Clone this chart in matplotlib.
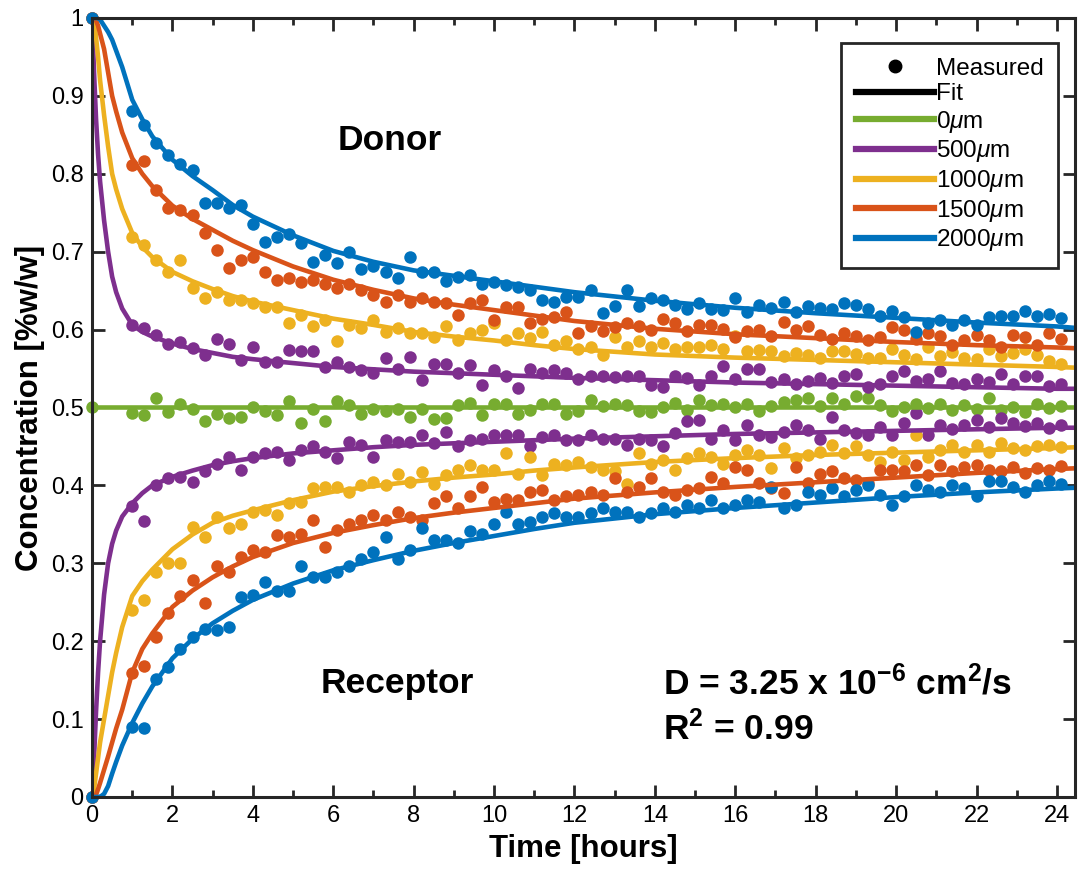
import numpy as np
import matplotlib
matplotlib.use("Agg")
import matplotlib.pyplot as plt
from matplotlib.lines import Line2D

plt.rcParams['font.family'] = ['Liberation Sans', 'DejaVu Sans']
plt.rcParams['mathtext.fontset'] = 'custom'
plt.rcParams['mathtext.rm'] = 'Liberation Sans'
plt.rcParams['mathtext.it'] = 'Liberation Sans:italic'
plt.rcParams['mathtext.bf'] = 'Liberation Sans:bold'

# measurement times [h]: t=0 then every 0.3 h from 1.0 to 24.1
t_meas = np.concatenate([[0.0], np.round(np.arange(1.0, 24.15, 0.3), 1)])

# measured donor concentrations
d2000 = [1.0,
         0.880, 0.862, 0.840, 0.824, 0.812, 0.805, 0.762, 0.762, 0.756, 0.760,
         0.736, 0.713, 0.719, 0.723, 0.711, 0.687, 0.696, 0.685, 0.700, 0.678,
         0.681, 0.674, 0.666, 0.693, 0.674, 0.674, 0.662, 0.668, 0.670, 0.659,
         0.661, 0.657, 0.655, 0.651, 0.638, 0.636, 0.642, 0.642, 0.651, 0.621,
         0.630, 0.651, 0.630, 0.640, 0.638, 0.632, 0.626, 0.634, 0.627, 0.625,
         0.640, 0.622, 0.631, 0.628, 0.635, 0.622, 0.630, 0.628, 0.626, 0.634,
         0.632, 0.626, 0.618, 0.624, 0.616, 0.597, 0.608, 0.612, 0.606, 0.612,
         0.606, 0.616, 0.618, 0.618, 0.624, 0.618, 0.620, 0.615]
d1500 = [1.0,
         0.811, 0.816, 0.779, 0.756, 0.753, 0.747, 0.724, 0.702, 0.679, 0.689,
         0.693, 0.674, 0.664, 0.666, 0.661, 0.664, 0.659, 0.653, 0.659, 0.651,
         0.645, 0.636, 0.644, 0.636, 0.640, 0.636, 0.634, 0.619, 0.634, 0.638,
         0.612, 0.629, 0.629, 0.608, 0.614, 0.616, 0.623, 0.596, 0.605, 0.598,
         0.603, 0.608, 0.605, 0.600, 0.613, 0.608, 0.598, 0.606, 0.606, 0.601,
         0.590, 0.598, 0.600, 0.592, 0.610, 0.600, 0.605, 0.593, 0.588, 0.596,
         0.592, 0.586, 0.590, 0.603, 0.600, 0.588, 0.596, 0.592, 0.580, 0.586,
         0.593, 0.586, 0.578, 0.593, 0.590, 0.580, 0.596, 0.588]
d1000 = [1.0,
         0.719, 0.708, 0.689, 0.674, 0.689, 0.653, 0.640, 0.648, 0.638, 0.638,
         0.634, 0.629, 0.629, 0.608, 0.619, 0.604, 0.612, 0.585, 0.606, 0.602,
         0.612, 0.597, 0.602, 0.595, 0.595, 0.591, 0.604, 0.587, 0.595, 0.599,
         0.608, 0.587, 0.595, 0.589, 0.597, 0.580, 0.585, 0.575, 0.577, 0.567,
         0.590, 0.577, 0.585, 0.578, 0.583, 0.575, 0.577, 0.578, 0.580, 0.575,
         0.592, 0.572, 0.574, 0.573, 0.566, 0.570, 0.568, 0.564, 0.572, 0.573,
         0.569, 0.564, 0.564, 0.575, 0.568, 0.562, 0.578, 0.566, 0.571, 0.563,
         0.562, 0.575, 0.566, 0.570, 0.575, 0.568, 0.560, 0.556]
d500 = [1.0,
        0.606, 0.602, 0.593, 0.582, 0.584, 0.576, 0.567, 0.588, 0.582, 0.561,
        0.578, 0.559, 0.559, 0.574, 0.572, 0.572, 0.552, 0.559, 0.552, 0.548,
        0.544, 0.563, 0.550, 0.565, 0.535, 0.556, 0.556, 0.544, 0.555, 0.529,
        0.548, 0.540, 0.525, 0.550, 0.544, 0.548, 0.544, 0.537, 0.541, 0.540,
        0.539, 0.541, 0.540, 0.529, 0.526, 0.540, 0.538, 0.529, 0.540, 0.553,
        0.537, 0.550, 0.550, 0.533, 0.536, 0.530, 0.534, 0.538, 0.532, 0.541,
        0.543, 0.526, 0.530, 0.540, 0.547, 0.534, 0.537, 0.547, 0.532, 0.530,
        0.537, 0.533, 0.543, 0.530, 0.540, 0.540, 0.528, 0.530]
m0 = [0.5,
      0.493, 0.490, 0.512, 0.494, 0.505, 0.498, 0.483, 0.492, 0.487, 0.488,
      0.500, 0.496, 0.490, 0.508, 0.480, 0.498, 0.483, 0.508, 0.503, 0.492,
      0.498, 0.495, 0.498, 0.488, 0.498, 0.485, 0.486, 0.503, 0.506, 0.490,
      0.505, 0.505, 0.492, 0.497, 0.505, 0.505, 0.491, 0.496, 0.510, 0.502,
      0.505, 0.503, 0.496, 0.494, 0.501, 0.506, 0.497, 0.510, 0.503, 0.504,
      0.500, 0.504, 0.496, 0.502, 0.507, 0.510, 0.512, 0.502, 0.512, 0.505,
      0.515, 0.512, 0.503, 0.496, 0.500, 0.505, 0.499, 0.504, 0.497, 0.503,
      0.498, 0.512, 0.497, 0.501, 0.494, 0.505, 0.499, 0.502]

# measured receptor concentrations
r500 = [0.0,
        0.373, 0.354, 0.400, 0.409, 0.411, 0.404, 0.418, 0.428, 0.437, 0.420,
        0.437, 0.441, 0.443, 0.433, 0.445, 0.450, 0.443, 0.435, 0.456, 0.452,
        0.437, 0.458, 0.456, 0.456, 0.465, 0.454, 0.469, 0.450, 0.458, 0.460,
        0.465, 0.465, 0.465, 0.450, 0.462, 0.465, 0.458, 0.458, 0.465, 0.460,
        0.460, 0.452, 0.460, 0.458, 0.450, 0.467, 0.482, 0.484, 0.460, 0.471,
        0.458, 0.478, 0.465, 0.462, 0.469, 0.478, 0.471, 0.460, 0.488, 0.471,
        0.467, 0.465, 0.475, 0.465, 0.480, 0.493, 0.465, 0.478, 0.473, 0.478,
        0.484, 0.475, 0.486, 0.480, 0.476, 0.480, 0.474, 0.478]
r1000 = [0.0,
         0.240, 0.253, 0.289, 0.300, 0.300, 0.347, 0.334, 0.360, 0.345, 0.351,
         0.366, 0.368, 0.362, 0.377, 0.379, 0.396, 0.398, 0.398, 0.392, 0.400,
         0.404, 0.400, 0.415, 0.404, 0.417, 0.402, 0.413, 0.420, 0.426, 0.420,
         0.420, 0.441, 0.415, 0.437, 0.413, 0.428, 0.426, 0.430, 0.424, 0.420,
         0.418, 0.402, 0.441, 0.428, 0.432, 0.420, 0.435, 0.441, 0.437, 0.428,
         0.439, 0.445, 0.439, 0.422, 0.448, 0.435, 0.439, 0.443, 0.452, 0.441,
         0.450, 0.439, 0.430, 0.443, 0.433, 0.465, 0.437, 0.445, 0.452, 0.443,
         0.452, 0.443, 0.454, 0.448, 0.446, 0.450, 0.452, 0.449]
r1500 = [0.0,
         0.159, 0.168, 0.205, 0.236, 0.258, 0.279, 0.249, 0.296, 0.289, 0.308,
         0.317, 0.315, 0.336, 0.334, 0.338, 0.356, 0.321, 0.343, 0.351, 0.356,
         0.362, 0.356, 0.366, 0.360, 0.356, 0.377, 0.386, 0.371, 0.386, 0.398,
         0.379, 0.383, 0.381, 0.392, 0.394, 0.381, 0.386, 0.388, 0.392, 0.388,
         0.409, 0.392, 0.398, 0.409, 0.392, 0.388, 0.394, 0.396, 0.411, 0.403,
         0.424, 0.420, 0.403, 0.396, 0.390, 0.424, 0.403, 0.415, 0.418, 0.409,
         0.407, 0.403, 0.420, 0.420, 0.418, 0.426, 0.413, 0.426, 0.418, 0.424,
         0.426, 0.420, 0.418, 0.424, 0.416, 0.422, 0.420, 0.425]
r2000 = [0.0,
         0.090, 0.088, 0.152, 0.167, 0.190, 0.205, 0.216, 0.214, 0.218, 0.257,
         0.259, 0.276, 0.265, 0.265, 0.296, 0.283, 0.283, 0.289, 0.296, 0.306,
         0.315, 0.334, 0.306, 0.317, 0.345, 0.330, 0.330, 0.326, 0.341, 0.338,
         0.351, 0.366, 0.351, 0.353, 0.360, 0.364, 0.360, 0.360, 0.364, 0.371,
         0.366, 0.366, 0.360, 0.364, 0.371, 0.366, 0.375, 0.371, 0.381, 0.371,
         0.375, 0.381, 0.379, 0.398, 0.371, 0.375, 0.392, 0.388, 0.396, 0.386,
         0.394, 0.400, 0.388, 0.375, 0.386, 0.400, 0.394, 0.392, 0.400, 0.396,
         0.386, 0.405, 0.405, 0.398, 0.392, 0.400, 0.405, 0.402]

# fitted curves, read at these times [h]
t_fit = [0, 0.05, 0.1, 0.15, 0.2, 0.3, 0.4, 0.5, 0.6, 0.75, 1, 1.25, 1.5, 2,
         2.5, 3, 3.5, 4, 5, 6, 7, 8, 9, 10, 11, 12, 14, 16, 18, 20, 22, 24, 24.5]
fd2000 = [1.0, 1.0, 1.0, 1.0, 0.998, 0.99, 0.982, 0.972, 0.958, 0.937, 0.895,
          0.87, 0.848, 0.818, 0.797, 0.779, 0.76, 0.745, 0.721, 0.701, 0.687,
          0.676, 0.669, 0.662, 0.655, 0.648, 0.637, 0.628, 0.621, 0.615,
          0.609, 0.604, 0.602]
fd1500 = [1.0, 1.0, 0.997, 0.99, 0.98, 0.96, 0.93, 0.90, 0.88, 0.853, 0.82,
          0.80, 0.784, 0.759, 0.742, 0.728, 0.714, 0.702, 0.681, 0.664, 0.651,
          0.640, 0.632, 0.625, 0.618, 0.611, 0.601, 0.594, 0.589, 0.584,
          0.580, 0.577, 0.576]
fd1000 = [1.0, 0.995, 0.975, 0.95, 0.92, 0.875, 0.835, 0.80, 0.78, 0.755,
          0.724, 0.706, 0.693, 0.674, 0.662, 0.652, 0.643, 0.636, 0.625,
          0.614, 0.606, 0.597, 0.591, 0.586, 0.580, 0.575, 0.568, 0.564,
          0.561, 0.558, 0.555, 0.552, 0.551]
fd500 = [1.0, 0.93, 0.87, 0.825, 0.79, 0.74, 0.70, 0.668, 0.648, 0.627, 0.606,
         0.597, 0.591, 0.582, 0.575, 0.570, 0.565, 0.562, 0.557, 0.552, 0.549,
         0.546, 0.544, 0.542, 0.540, 0.538, 0.535, 0.532, 0.530, 0.528, 0.526,
         0.524, 0.524]
fr500 = [0.0, 0.05, 0.11, 0.16, 0.2, 0.26, 0.3, 0.325, 0.342, 0.36, 0.377,
         0.39, 0.40, 0.411, 0.419, 0.426, 0.431, 0.435, 0.441, 0.445, 0.449,
         0.452, 0.454, 0.456, 0.458, 0.460, 0.463, 0.466, 0.468, 0.470, 0.472,
         0.474, 0.474]
fr1000 = [0.0, 0.01, 0.03, 0.05, 0.07, 0.10, 0.13, 0.16, 0.185, 0.218, 0.258,
          0.277, 0.292, 0.318, 0.337, 0.352, 0.361, 0.368, 0.381, 0.392,
          0.399, 0.405, 0.41, 0.414, 0.419, 0.423, 0.43, 0.435, 0.439, 0.442,
          0.445, 0.448, 0.449]
fr1500 = [0.0, 0.0, 0.003, 0.01, 0.018, 0.035, 0.052, 0.07, 0.088, 0.112,
          0.16, 0.19, 0.21, 0.244, 0.265, 0.282, 0.296, 0.308, 0.326, 0.339,
          0.349, 0.358, 0.365, 0.371, 0.377, 0.383, 0.391, 0.398, 0.404,
          0.410, 0.416, 0.421, 0.422]
fr2000 = [0.0, 0.0, 0.0, 0.0, 0.0, 0.004, 0.014, 0.03, 0.045, 0.066, 0.095,
          0.12, 0.142, 0.178, 0.203, 0.223, 0.239, 0.253, 0.274, 0.291, 0.304,
          0.316, 0.326, 0.335, 0.344, 0.352, 0.363, 0.371, 0.378, 0.385,
          0.391, 0.396, 0.397]
t_fit0 = [0, 24.5]
f0 = [0.5, 0.5]

c_green = '#77AC30'
c_purple = '#7E2F8E'
c_yellow = '#EDB120'
c_red = '#D95319'
c_blue = '#0072BD'

fig = plt.figure(figsize=(10.79, 8.73), dpi=100)
ax = fig.add_axes([0.0853, 0.0871, 0.9110, 0.8923])

ms = 9
for vals, col in [(m0, c_green), (d500, c_purple), (r500, c_purple),
                  (d1000, c_yellow), (r1000, c_yellow), (d1500, c_red),
                  (r1500, c_red), (d2000, c_blue), (r2000, c_blue)]:
    ax.plot(t_meas, vals, 'o', ms=ms, mec='none', color=col, zorder=2,
            clip_on=False)

lw = 3.3
ax.plot(t_fit0, f0, color=c_green, lw=lw, zorder=3)
for vals, col in [(fd500, c_purple), (fr500, c_purple),
                  (fd1000, c_yellow), (fr1000, c_yellow),
                  (fd1500, c_red), (fr1500, c_red),
                  (fd2000, c_blue), (fr2000, c_blue)]:
    ax.plot(t_fit, vals, color=col, lw=lw, zorder=3, solid_capstyle='round')

ax.set_xlim(0, 24.45)
ax.set_ylim(0, 1)
ax.set_xticks(np.arange(0, 25, 2))
ax.set_xticks(np.arange(1, 25, 2), minor=True)
ax.set_yticks(np.round(np.arange(0, 1.01, 0.1), 1))
ax.set_yticklabels(['0', '0.1', '0.2', '0.3', '0.4', '0.5', '0.6', '0.7',
                    '0.8', '0.9', '1'])
ax.tick_params(which='both', direction='in', top=True, right=True,
               width=2, color='#262626', labelsize=17, pad=6)
ax.tick_params(which='major', length=9)
ax.tick_params(which='minor', length=5)
for s in ax.spines.values():
    s.set_linewidth(2.2)
    s.set_color('#262626')
    s.set_zorder(4)

ax.set_xlabel('Time [hours]', fontsize=22.5, fontweight='bold', labelpad=5)
ax.set_ylabel('Concentration [%w/w]', fontsize=22.5, fontweight='bold',
              labelpad=4)

ax.text(7.4, 0.843, 'Donor', fontsize=25.5, fontweight='bold',
        ha='center', va='center')
ax.text(7.6, 0.146, 'Receptor', fontsize=25.5, fontweight='bold',
        ha='center', va='center')
ax.text(14.2, 0.146, r'D = 3.25 x 10$^{\mathbf{-6}}$ cm$^{\mathbf{2}}$/s',
        fontsize=25.5, fontweight='bold', ha='left', va='center')
ax.text(14.2, 0.088, r'R$^{\mathbf{2}}$ = 0.99', fontsize=25.5,
        fontweight='bold', ha='left', va='center')

handles = [Line2D([], [], marker='o', ls='none', color='k', ms=9),
           Line2D([], [], color='k', lw=4.5),
           Line2D([], [], color=c_green, lw=4.5),
           Line2D([], [], color=c_purple, lw=4.5),
           Line2D([], [], color=c_yellow, lw=4.5),
           Line2D([], [], color=c_red, lw=4.5),
           Line2D([], [], color=c_blue, lw=4.5)]
labels = ['Measured', 'Fit', r'0$\mu$m', r'500$\mu$m', r'1000$\mu$m',
          r'1500$\mu$m', r'2000$\mu$m']
leg = ax.legend(handles, labels, loc='upper right',
                bbox_to_anchor=(0.983, 0.968), borderaxespad=0,
                fontsize=17.5, handlelength=3.2, handletextpad=0.1,
                labelspacing=0.15, borderpad=0.6, fancybox=False,
                framealpha=1, edgecolor='#262626')
leg.get_frame().set_linewidth(2)

fig.savefig('out.png', dpi=100)
